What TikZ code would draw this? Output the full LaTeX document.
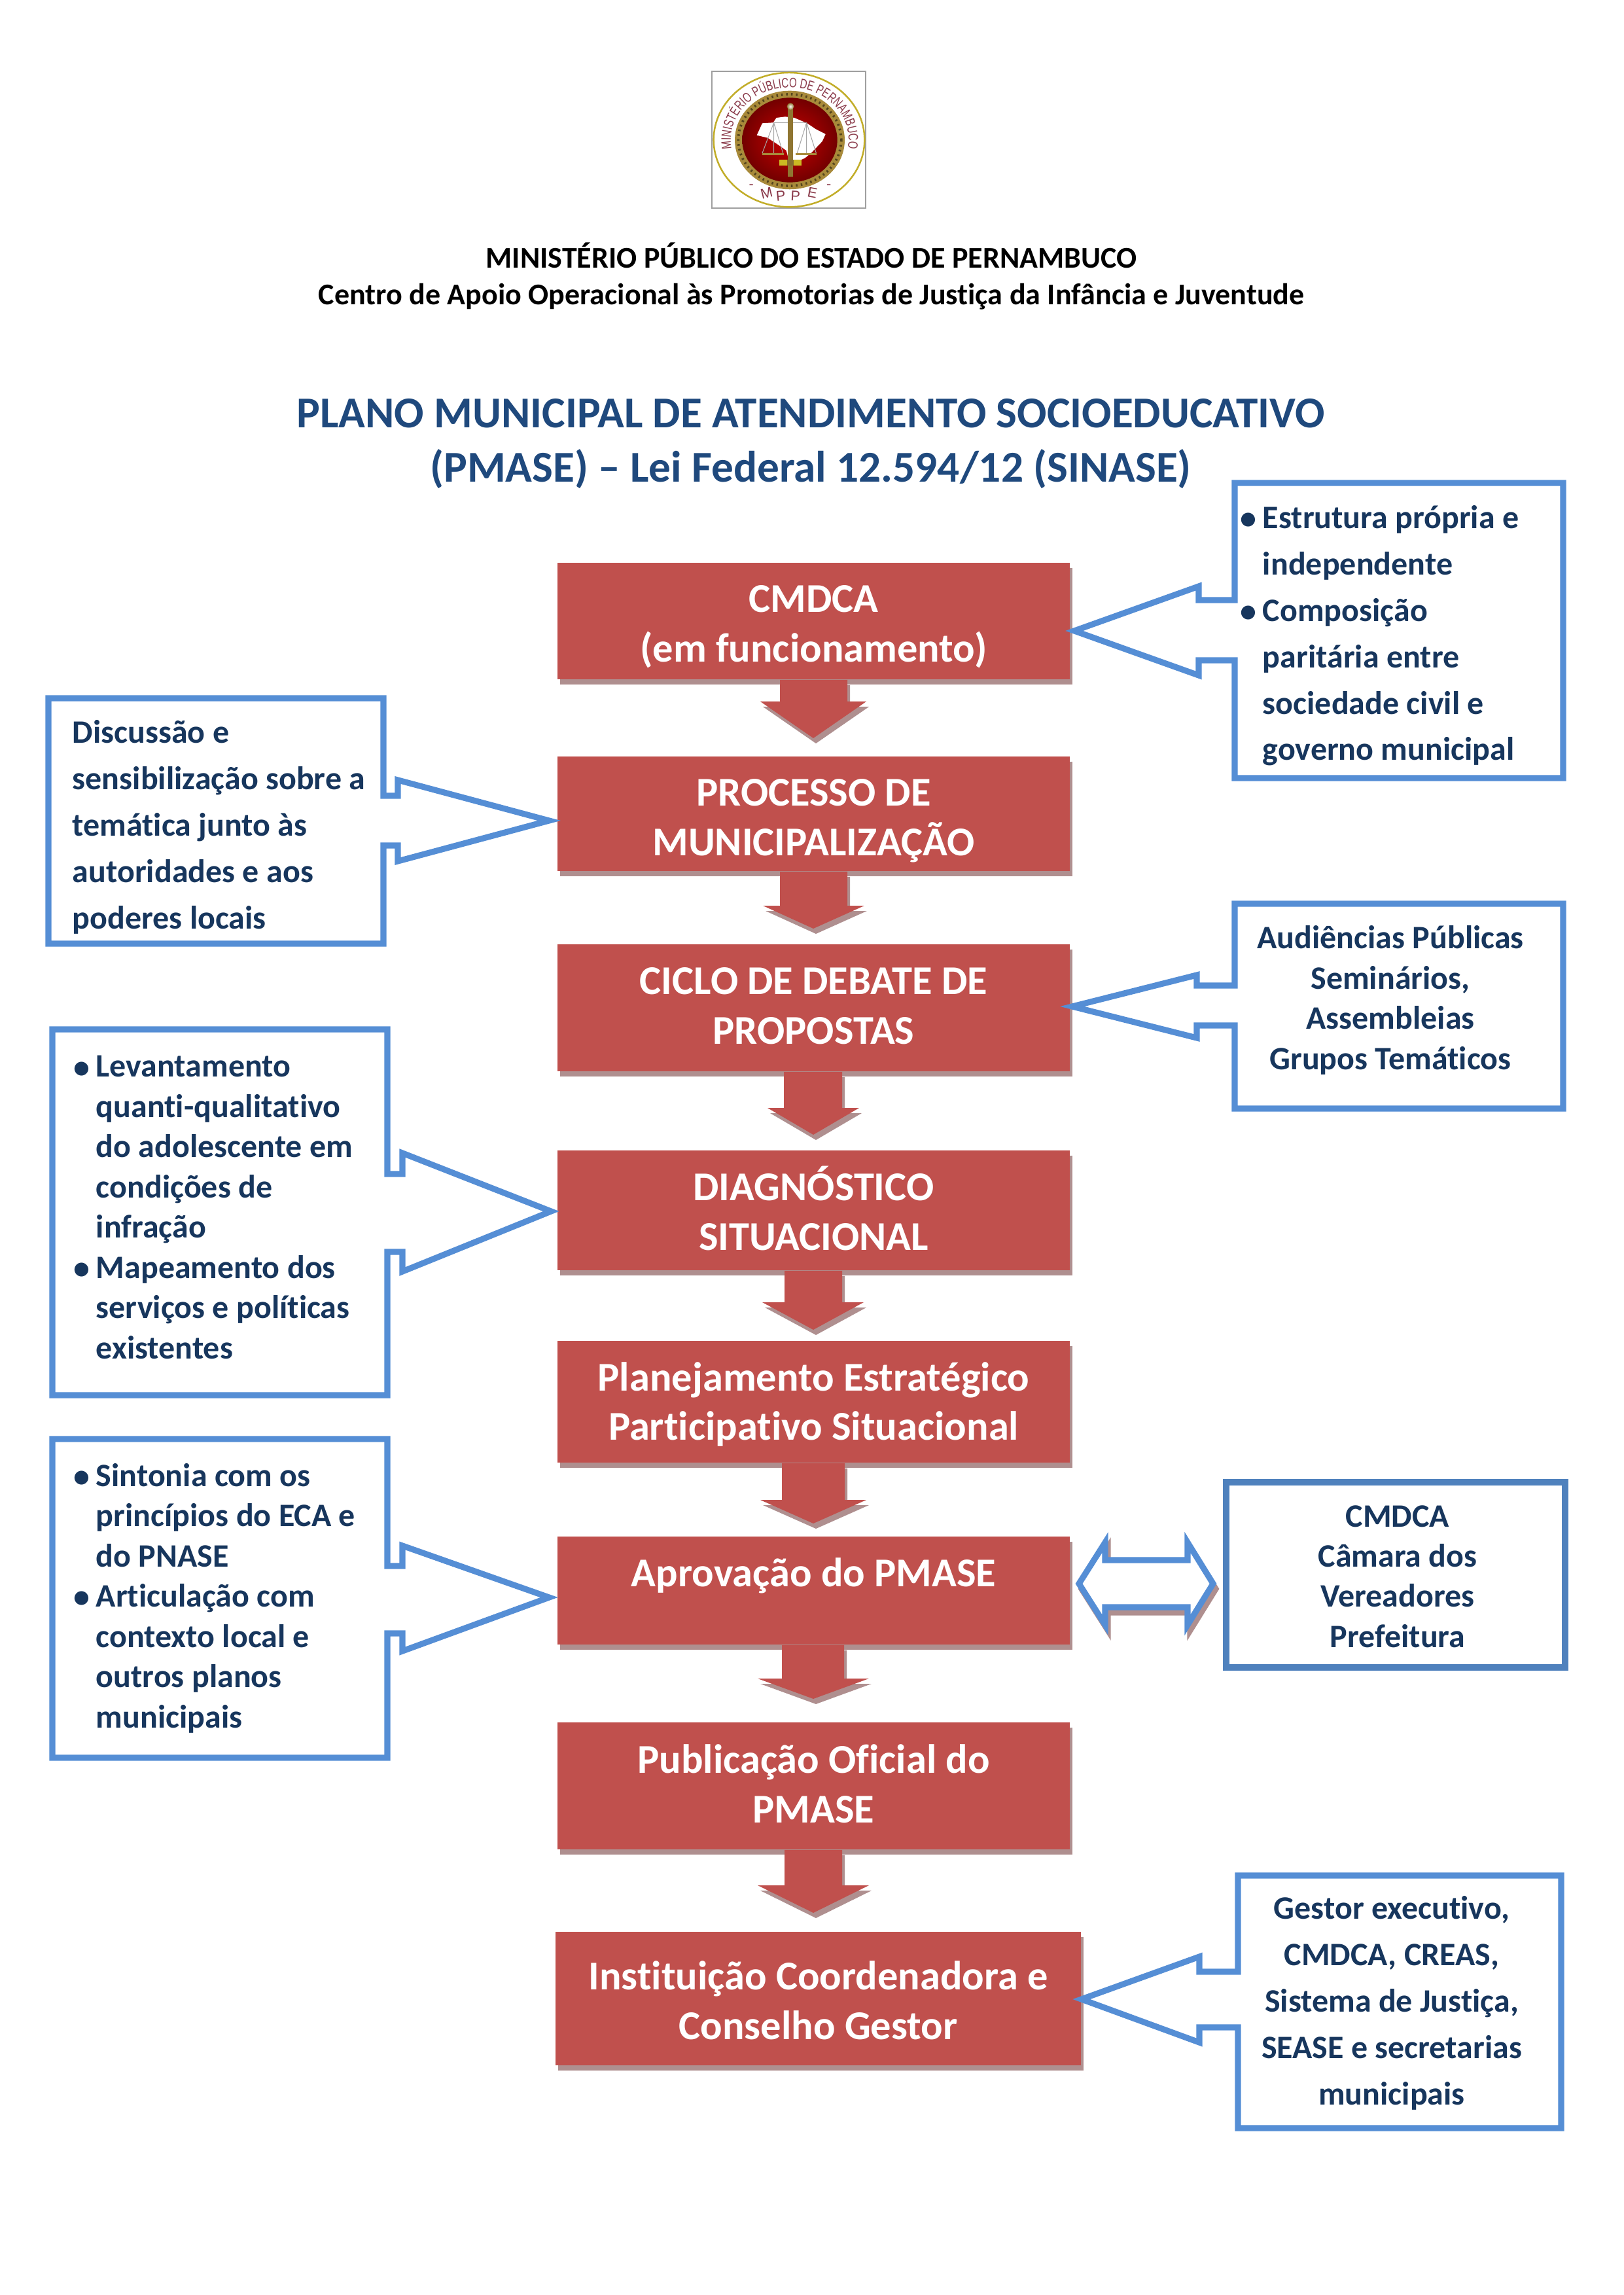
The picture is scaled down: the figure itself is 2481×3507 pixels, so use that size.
\documentclass[tikz,border=0pt]{standalone}
\usepackage{fontspec}
\setmainfont{Carlito}[Ligatures=NoCommon]
\newfontfamily\logofont[FakeStretch=0.72]{Liberation Sans}
\newfontfamily\logoplain{Liberation Sans}
\usetikzlibrary{calc,shadows,decorations.text}
\definecolor{boxred}{HTML}{C0504D}
\definecolor{shadowc}{HTML}{AF8F8F}
\definecolor{callblue}{HTML}{558ED5}
\definecolor{steelblue}{HTML}{4F81BD}
\definecolor{navy}{HTML}{17365D}
\definecolor{titleblue}{HTML}{1F497D}
\definecolor{logored}{HTML}{8A3A4A}
\definecolor{gold}{HTML}{A88A3A}
\tikzset{
  flowbox/.style={fill=boxred,draw=none,inner sep=0pt,
    copy shadow={shadow xshift=0.96pt,shadow yshift=-1.92pt,fill=shadowc,draw=none}},
  flowtext/.style={inner sep=0pt,text=white,align=center,font=\bfseries\fontsize{15}{18.2}\selectfont},
  calloutline/.style={draw=callblue,line width=2.2pt,fill=white,miter limit=10},
  calltext/.style={inner sep=0pt,text=navy,font=\bfseries\fontsize{12}{17}\selectfont},
  calltight/.style={inner sep=0pt,text=navy,font=\bfseries\fontsize{12}{14.75}\selectfont},
  headtext/.style={inner sep=0pt,text=black,align=center,font=\bfseries\fontsize{11.05}{13.4}\selectfont},
  titletext/.style={inner sep=0pt,text=titleblue,align=center,font=\bfseries\fontsize{16.15}{19.9}\selectfont},
  logoletter/.style={inner sep=0pt,text=logored,font=\logoplain\fontsize{5.2}{6}\selectfont},
}
% box: name, x1, y1, x2, y2
\newcommand\flowstep[5]{\node[flowbox,minimum width={(#4-#2)*0.24pt},minimum height={(#5-#3)*0.24pt}] (#1) at ({(#2+#4)/2},{(#3+#5)/2}) {};}
\newcommand\flowlabel[3]{\node[flowtext] (#1text) at ($(#1)+(0,#2)$) {#3};}
% block arrow: from node, shaft x1, x2, head y, head x1, head x2, tip y
\newcommand\blockarrow[7]{%
  \coordinate (#1tip) at (1243,#7);
  \fill[shadowc] ($(#2,0 |- #1.south)+(4,8)$) -- ($(#2,#4)+(4,8)$) -- ($(#5,#4)+(4,8)$) -- ($(#1tip)+(4,8)$) -- ($(#6,#4)+(4,8)$) -- ($(#3,#4)+(4,8)$) -- ($(#3,0 |- #1.south)+(4,8)$) -- cycle;
  \fill[boxred] (#2,0 |- #1.south) -- (#2,#4) -- (#5,#4) -- (#1tip) -- (#6,#4) -- (#3,#4) -- (#3,0 |- #1.south) -- cycle;}
\newcommand\blt{\llap{\raisebox{-0.3pt}{\fontsize{12}{12}\selectfont\textbullet}\hspace{2.2pt}}}
\begin{document}
\begin{tikzpicture}[x=0.24pt,y=-0.24pt]
\useasboundingbox (0,0) rectangle (2481,3507);
\fill[white] (0,0) rectangle (2481,3507);

% ---------- logo
\begin{scope}[shift={(1050,90)},x=0.08pt,y=-0.08pt]
  \draw[draw=gray!75,line width=0.5pt,fill=white] (115,58) rectangle (820,685);
  \draw[gold!70!yellow,line width=0.6pt] (468,371) ellipse [x radius=346,y radius=308];
  \draw[gold,fill=gold,line width=0.3pt] (471,372) ellipse [x radius=250,y radius=224];
  \draw[black!50!gold,line width=0.9pt,dash pattern=on 0.6pt off 1.2pt] (471,372) ellipse [x radius=236,y radius=210];
  \shade[inner color=red!80!black,outer color=red!45!black] (471,372) ellipse [x radius=218,y radius=194];
  \fill[white] (320,350) -- (345,295) -- (395,292) -- (410,270) -- (450,265) -- (492,270) -- (550,295) -- (590,322) -- (635,345) -- (620,378) -- (570,430) -- (540,455) -- (510,468) -- (470,475) -- (455,420) -- (420,395) -- (370,362) -- cycle;
  \draw[gray!70,line width=0.25pt] (398,292) -- (548,292);
  \draw[gray!70,line width=0.25pt] (398,292) -- (345,432) (398,292) -- (398,432) (398,292) -- (440,432);
  \draw[gray!70,line width=0.25pt] (548,292) -- (505,432) (548,292) -- (548,432) (548,292) -- (592,432);
  \draw[gold,line width=0.6pt] (345,436) -- (445,436) (498,436) -- (595,436);
  \fill[gold!85!black] (462,220) rectangle (485,540);
  \shade[inner color=white,outer color=gold!85!black] (474,218) circle [x radius=16,y radius=16];
  \fill[gold!60!yellow] (422,462) rectangle (525,490);
  \fill[gold!80!black] (458,462) rectangle (490,490);
  \node[logoletter] (mppeA) at (295,585) {-};
  \node[logoletter,rotate=14] (mppeM) at (365,615) {M};
  \node[logoletter,rotate=6] (mppeP) at (430,627) {P};
  \node[logoletter,rotate=-3] (mppeQ) at (497,628) {P};
  \node[logoletter,rotate=-11] (mppeE) at (575,615) {E};
  \node[logoletter] (mppeB) at (650,585) {-};
\end{scope}
\begin{scope}[shift={(1207,214)},x=0.24pt,y=0.2136pt]
  \path[decorate,decoration={text along path,text align=center,text color=logored,
     text={|\logofont\fontsize{5}{6}\selectfont|MINISTÉRIO PÚBLICO DE PERNAMBUCO}}]
     (213:90 and 90) arc [start angle=213,end angle=-33,x radius=90,y radius=90];
\end{scope}

% ---------- headings
\node[headtext] (org) at (1240,422) {MINISTÉRIO PÚBLICO DO ESTADO DE PERNAMBUCO\\Centro de Apoio Operacional às Promotorias de Justiça da Infância e Juventude};
\node[titletext] (title) at (1239,678) {PLANO MUNICIPAL DE ATENDIMENTO SOCIOEDUCATIVO\\(PMASE) – Lei Federal 12.594/12 (SINASE)};

% ---------- flow
\flowstep{cmdca}{852}{860}{1635}{1038}
\flowstep{proc}{852}{1156}{1635}{1331}
\flowstep{ciclo}{852}{1443}{1635}{1637}
\flowstep{diag}{852}{1758}{1635}{1941}
\flowstep{plan}{852}{2049}{1635}{2235}
\flowstep{aprov}{852}{2348}{1635}{2513}
\flowstep{pub}{852}{2632}{1635}{2826}
\flowstep{inst}{849}{2952}{1652}{3156}

\blockarrow{cmdca}{1192}{1295}{1072}{1162}{1324}{1128}
\blockarrow{proc}{1192}{1295}{1384}{1166}{1321}{1419}
\blockarrow{ciclo}{1198}{1287}{1693}{1173}{1313}{1734}
\blockarrow{diag}{1199}{1287}{1990}{1165}{1320}{2032}
\blockarrow{plan}{1195}{1291}{2292}{1162}{1324}{2328}
\blockarrow{aprov}{1195}{1290}{2565}{1158}{1328}{2596}
\blockarrow{pub}{1199}{1287}{2881}{1158}{1328}{2923}

\flowlabel{cmdca}{9}{CMDCA\\(em funcionamento)}
\flowlabel{proc}{11}{PROCESSO DE\\MUNICIPALIZAÇÃO}
\flowlabel{ciclo}{-3}{CICLO DE DEBATE DE\\PROPOSTAS}
\flowlabel{diag}{-3}{DIAGNÓSTICO\\SITUACIONAL}
\flowlabel{plan}{4}{Planejamento Estratégico\\Participativo Situacional}
\flowlabel{aprov}{-23}{Aprovação do PMASE}
\flowlabel{pub}{-3}{Publicação Oficial do\\PMASE}
\flowlabel{inst}{3}{Instituição Coordenadora e\\Conselho Gestor}

% ---------- callouts
\draw[calloutline] (1887,738) -- (2389,738) -- (2389,1189) -- (1887,1189) -- (1887,1009) -- (1832,1009) -- (1832,1032) -- ($(cmdca.east |- 0,964)+(6,0)$) -- (1832,896) -- (1832,917) -- (1887,917) -- cycle;
\node[calltext,anchor=west,align=left] (c1) at (1929,971.5) {\blt Estrutura própria e\\independente\\\blt Composição\\paritária entre\\sociedade civil e\\governo municipal};

\draw[calloutline] (74,1067) -- (586,1067) -- (586,1216) -- (608,1216) -- (608,1192) -- ($(proc.west |- 0,1254)+(-12,0)$) -- (608,1316) -- (608,1292) -- (586,1292) -- (586,1442) -- (74,1442) -- cycle;
\node[calltext,anchor=west,align=left] (c2) at (110,1264) {Discussão e\\sensibilização sobre a\\temática junto às\\autoridades e aos\\poderes locais};

\draw[calloutline] (1887,1381) -- (2389,1381) -- (2389,1694) -- (1887,1694) -- (1887,1567) -- (1829,1567) -- (1829,1586) -- ($(ciclo.east |- 0,1538)+(3,0)$) -- (1829,1490) -- (1829,1506) -- (1887,1506) -- cycle;
\node[calltight,align=center] (c3) at (2125,1528.5) {Audiências Públicas\\Seminários,\\Assembleias\\Grupos Temáticos};

\draw[calloutline] (80,1573) -- (592,1573) -- (592,1794) -- (615,1794) -- (615,1762) -- ($(diag.west |- 0,1851)+(-9,0)$) -- (615,1943) -- (615,1913) -- (592,1913) -- (592,2132) -- (80,2132) -- cycle;
\node[calltight,anchor=west,align=left] (c4) at (146,1845) {\blt Levantamento\\quanti-qualitativo\\do adolescente em\\condições de\\infração\\\blt Mapeamento dos\\serviços e políticas\\existentes};

\draw[calloutline] (80,2199) -- (592,2199) -- (592,2393) -- (615,2393) -- (615,2362) -- ($(aprov.west |- 0,2441)+(-12,0)$) -- (615,2523) -- (615,2496) -- (592,2496) -- (592,2686) -- (80,2686) -- cycle;
\node[calltight,anchor=west,align=left] (c5) at (146,2442) {\blt Sintonia com os\\princípios do ECA e\\do PNASE\\\blt Articulação com\\contexto local e\\outros planos\\municipais};

\node[draw=steelblue,line width=2.4pt,fill=white,inner sep=0pt,minimum width={(2392-1874)*0.24pt},minimum height={(2548-2265)*0.24pt}] (c6) at (2133,2406.5) {};
\node[calltight,align=center] (c6text) at (2136,2409) {CMDCA\\Câmara dos\\Vereadores\\Prefeitura};

\draw[fill=shadowc,draw=shadowc,line width=2.2pt,miter limit=10,shift={(4,8)}] (1689,2357) -- (1689,2384) -- (1815,2384) -- (1815,2357) -- (1854,2420) -- (1815,2483) -- (1815,2456) -- (1689,2456) -- (1689,2483) -- (1649,2420) -- cycle;
\draw[calloutline] (1689,2357) -- (1689,2384) -- (1815,2384) -- (1815,2357) -- (1854,2420) -- (1815,2483) -- (1815,2456) -- (1689,2456) -- (1689,2483) -- (1649,2420) -- cycle;

\draw[calloutline] (1892,2866) -- (2386,2866) -- (2386,3252) -- (1892,3252) -- (1892,3098) -- (1833,3098) -- (1833,3121) -- (inst.east |- 0,3055) -- (1833,2990) -- (1833,3013) -- (1892,3013) -- cycle;
\node[calltext,align=center] (c8) at (2127,3061) {Gestor executivo,\\CMDCA, CREAS,\\Sistema de Justiça,\\SEASE e secretarias\\municipais};
\end{tikzpicture}
\end{document}
